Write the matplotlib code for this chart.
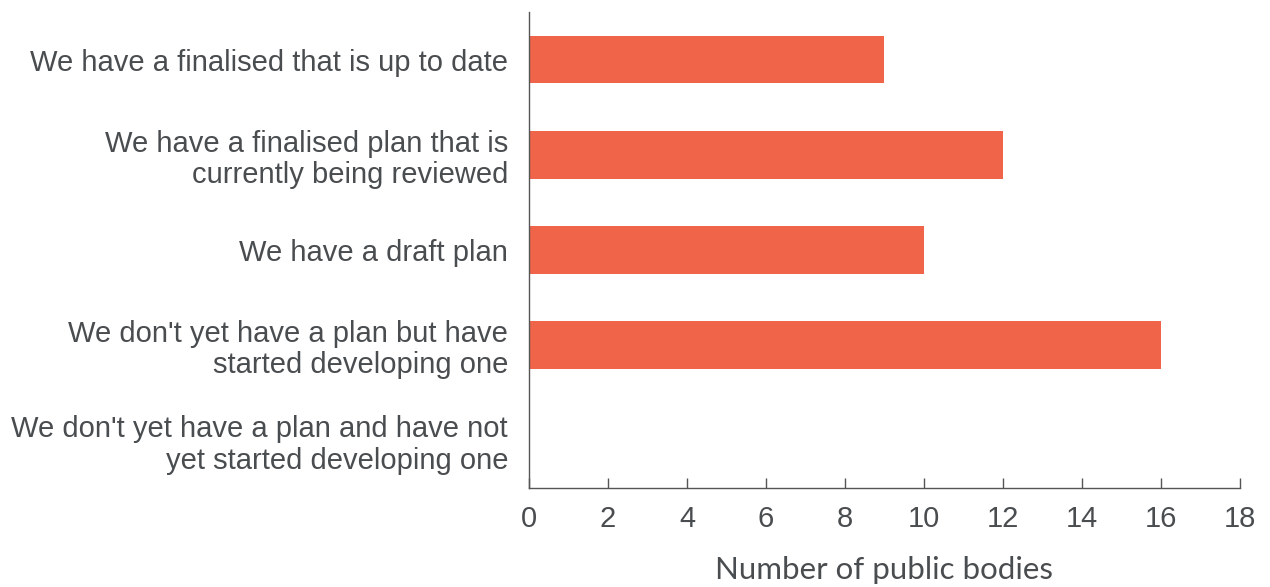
import numpy as np
import matplotlib.pyplot as plt

# survey answers, top to bottom
categories = [
    "We have a finalised that is up to date",
    "We have a finalised plan that is\ncurrently being reviewed",
    "We have a draft plan",
    "We don't yet have a plan but have\nstarted developing one",
    "We don't yet have a plan and have not\nyet started developing one",
]
counts = [9, 12, 10, 16, 0]
xticks = [0, 2, 4, 6, 8, 10, 12, 14, 16, 18]

bar_color = '#F0644A'
text_color = '#4A4D50'
axis_color = '#555555'

fig = plt.figure(figsize=(12.7, 5.87), dpi=100)
ax = fig.add_axes([0.4165, 0.1687, 0.5598, 0.811])

y = np.arange(len(categories))
ax.barh(y, counts, height=0.5, color=bar_color)

ax.set_ylim(len(categories) - 0.5, -0.5)
ax.set_xlim(0, 18)
ax.set_xticks(xticks)
ax.set_yticks(y)
ax.set_yticklabels(categories, fontsize=21, color=text_color,
                   family='Liberation Sans', linespacing=1.15)
for lab in ax.get_xticklabels():
    lab.set_family('Liberation Sans')

ax.tick_params(axis='x', direction='in', length=7, width=1, color=axis_color,
               labelsize=21, labelcolor=text_color, pad=12)
ax.tick_params(axis='y', length=0, pad=15)

for s in ['top', 'right']:
    ax.spines[s].set_visible(False)
for s in ['left', 'bottom']:
    ax.spines[s].set_color(axis_color)
    ax.spines[s].set_linewidth(1)

ax.set_xlabel('Number of public bodies', fontsize=22.5, color=text_color,
              family='Lato', labelpad=17)

fig.savefig('out.png', dpi=100)
